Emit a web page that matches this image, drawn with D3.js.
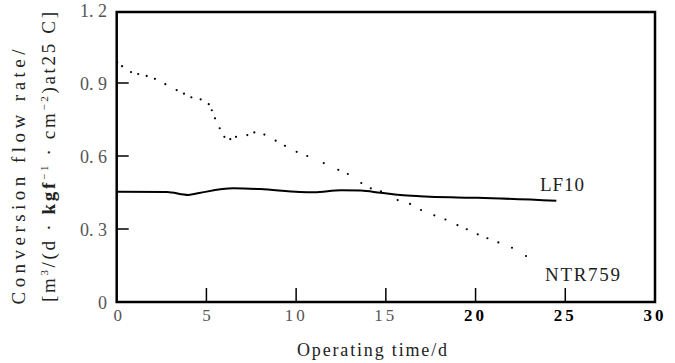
<!DOCTYPE html>
<html>
<head>
<meta charset="utf-8">
<script src="https://cdn.jsdelivr.net/npm/d3@7"></script>
<style>
  body { margin: 0; background: #fff; }
</style>
</head>
<body>
<svg id="chart" width="675" height="363"></svg>
<script>
// data
const lf10Days = [0, 2.8, 4.0, 4.6, 6.5, 8.0, 10.2, 11.0, 12.5, 13.6, 14.7, 15.8, 16.9, 18.6, 20.1, 24.5];
const lf10Flow = [0.453, 0.452, 0.440, 0.448, 0.467, 0.464, 0.452, 0.451, 0.459, 0.458, 0.449, 0.440, 0.435, 0.430, 0.428, 0.416];

const ntrDays = [0.03, 0.30, 0.80, 1.20, 1.67, 2.13, 2.71, 3.34, 3.75, 4.16, 4.68, 5.13, 5.30, 5.48, 5.74, 6.00,
  6.33, 6.65, 7.28, 7.67, 8.23, 8.86, 9.38, 10.03, 10.62, 11.54, 12.35, 12.88, 13.63, 14.16, 14.73, 15.66,
  16.35, 16.96, 17.70, 18.32, 18.99, 19.51, 20.12, 20.66, 21.27, 22.03, 22.81];
const ntrFlow = [0.985, 0.969, 0.945, 0.937, 0.929, 0.917, 0.895, 0.871, 0.856, 0.841, 0.833, 0.813, 0.788, 0.755, 0.714, 0.679,
  0.669, 0.679, 0.686, 0.697, 0.688, 0.663, 0.642, 0.617, 0.600, 0.571, 0.543, 0.526, 0.489, 0.467, 0.455, 0.419,
  0.403, 0.378, 0.356, 0.339, 0.316, 0.299, 0.278, 0.262, 0.245, 0.223, 0.189];

const xTicks = [0, 5, 10, 15, 20, 25, 30];
const xBoldTicks = [20, 25, 30];
const yTicks = [0, 0.3, 0.6, 0.9, 1.2];

const FONT = 'Liberation Serif';

const svg = d3.select('#chart');
const plotLeft = 116.7, plotRight = 655, plotTop = 12, plotBottom = 302;

const x = d3.scaleLinear().domain([0, 30]).range([plotLeft, plotRight]);
const y = d3.scaleLinear().domain([0, 1.2]).range([plotBottom, 10]);

// frame
svg.append('rect')
  .attr('x', plotLeft).attr('y', plotTop)
  .attr('width', plotRight - plotLeft).attr('height', plotBottom - plotTop)
  .attr('fill', 'none').attr('stroke', '#000').attr('stroke-width', 2.5);

// y ticks (inward) and labels
svg.selectAll('.ytick')
  .data(yTicks.filter(d => d > 0 && d < 1.2))
  .join('line')
  .attr('x1', plotLeft).attr('x2', plotLeft + 12)
  .attr('y1', d => y(d)).attr('y2', d => y(d))
  .attr('stroke', '#000').attr('stroke-width', 1.5);

svg.selectAll('.ylab')
  .data(yTicks)
  .join('text')
  .attr('font-family', FONT)
  .attr('x', 107).attr('y', d => y(d) + 7)
  .attr('text-anchor', 'end')
  .attr('font-size', 18)
  .attr('fill', '#555')
  .attr('xml:space', 'preserve')
  .text(d => d === 0 ? '0' : d.toFixed(1).replace('.', '. '));

// x ticks (inward) and labels
svg.selectAll('.xtick')
  .data(xTicks.filter(d => d > 0 && d < 30))
  .join('line')
  .attr('x1', d => x(d)).attr('x2', d => x(d))
  .attr('y1', plotBottom).attr('y2', plotBottom - 14)
  .attr('stroke', '#000').attr('stroke-width', 1.5);

svg.selectAll('.xlab')
  .data(xTicks)
  .join('text')
  .attr('font-family', FONT)
  .attr('x', d => x(d) + (d === 0 ? 1 : 0)).attr('y', 321)
  .attr('text-anchor', 'middle')
  .attr('font-size', 17)
  .attr('letter-spacing', d => d >= 10 ? 3 : 0)
  .attr('font-weight', d => xBoldTicks.includes(d) ? 'bold' : 'normal')
  .attr('fill', d => xBoldTicks.includes(d) ? '#000' : '#555')
  .text(d => d);

// LF10 solid line
const lf10 = lf10Days.map((d, i) => [d, lf10Flow[i]]);
svg.append('path')
  .datum(lf10)
  .attr('d', d3.line().x(d => x(d[0])).y(d => y(d[1])).curve(d3.curveMonotoneX))
  .attr('fill', 'none').attr('stroke', '#000').attr('stroke-width', 2);

// NTR759 dots
const ntr = ntrDays.map((d, i) => [d, ntrFlow[i]]);
svg.selectAll('.dot')
  .data(ntr)
  .join('circle')
  .attr('cx', d => x(d[0])).attr('cy', d => y(d[1]))
  .attr('r', 1.1).attr('fill', '#000');

// series labels
svg.append('text').attr('font-family', FONT).attr('x', 540).attr('y', 191)
  .attr('font-size', 19).attr('fill', '#222').attr('textLength', 44).text('LF10');
svg.append('text').attr('font-family', FONT).attr('x', 545).attr('y', 281)
  .attr('font-size', 19).attr('fill', '#222').attr('textLength', 75).text('NTR759');

// axis titles
svg.append('text')
  .attr('font-family', FONT)
  .attr('x', 372).attr('y', 356)
  .attr('text-anchor', 'middle')
  .attr('font-size', 18)
  .attr('fill', '#222')
  .attr('textLength', 150)
  .text('Operating time/d');

svg.append('text')
  .attr('font-family', FONT)
  .attr('transform', 'translate(25,177) rotate(-90)')
  .attr('text-anchor', 'middle')
  .attr('font-size', 19)
  .attr('fill', '#222')
  .attr('textLength', 255)
  .text('Conversion  flow rate/');

const t2 = svg.append('text')
  .attr('font-family', FONT)
  .attr('transform', 'translate(55,157) rotate(-90)')
  .attr('text-anchor', 'middle')
  .attr('font-size', 19)
  .attr('fill', '#222')
  .attr('textLength', 290);
t2.append('tspan').text('[m');
t2.append('tspan').attr('font-size', 11).attr('dy', -7).text('3');
t2.append('tspan').attr('dy', 7).text('/(d · ');
t2.append('tspan').attr('font-weight', 'bold').text('kgf');
t2.append('tspan').attr('font-size', 11).attr('dy', -7).text('−1');
t2.append('tspan').attr('dy', 7).text(' · cm');
t2.append('tspan').attr('font-size', 11).attr('dy', -7).text('−2');
t2.append('tspan').attr('dy', 7).text(')at25 C]');
</script>
</body>
</html>
